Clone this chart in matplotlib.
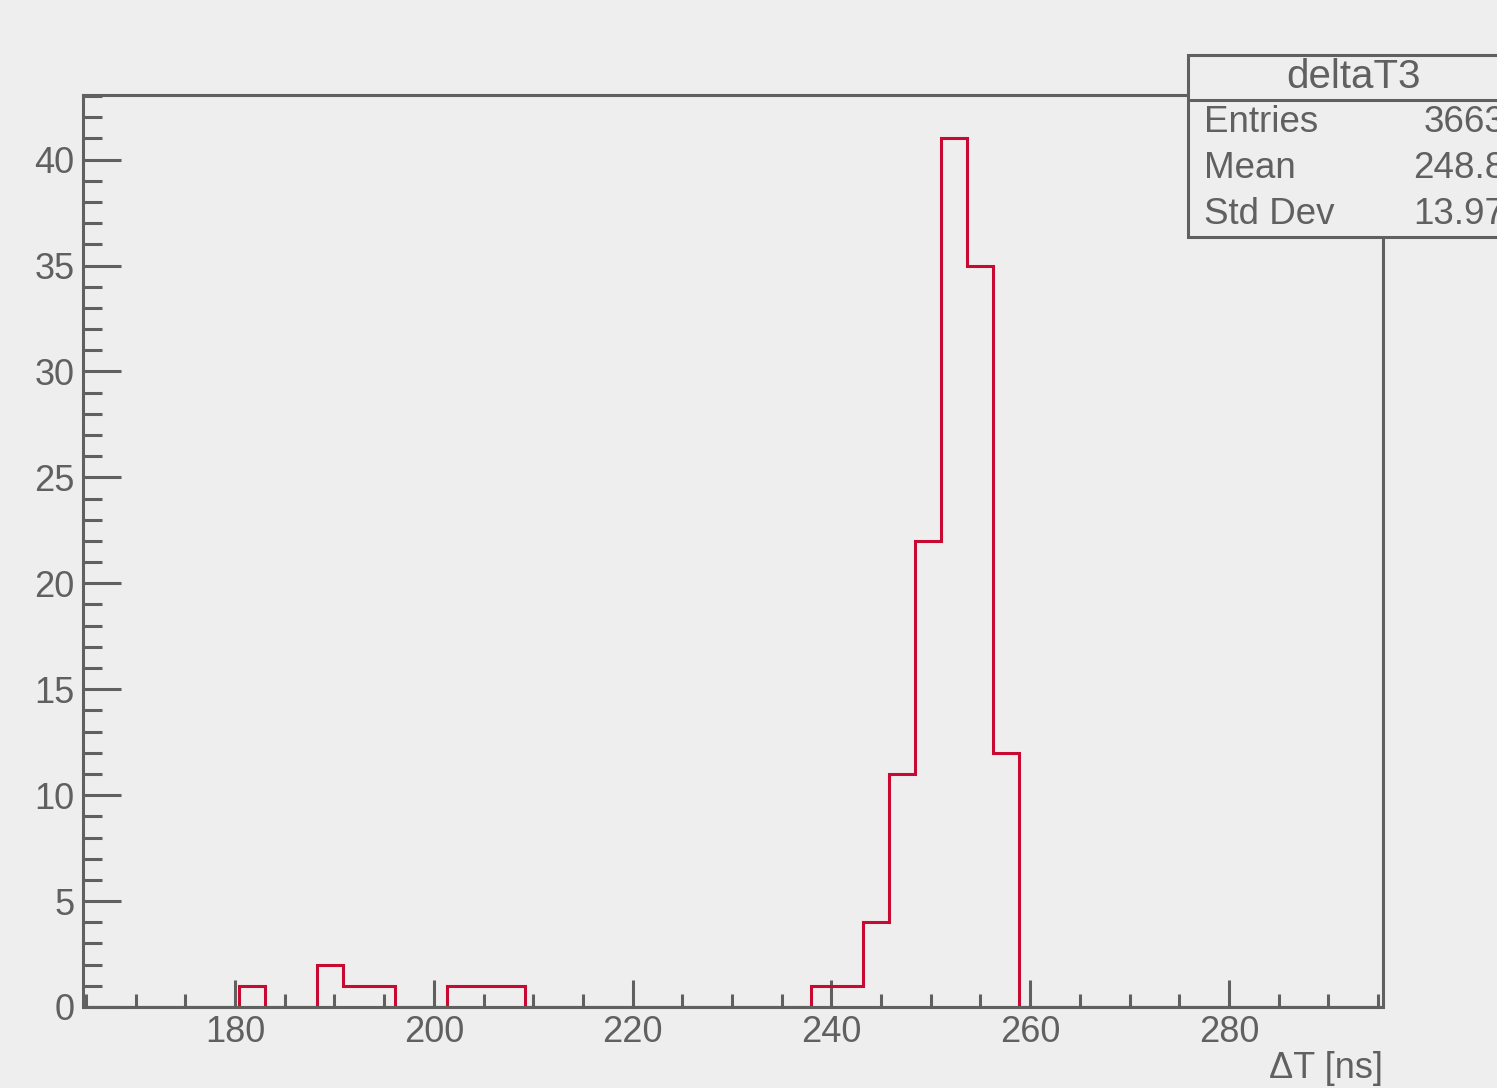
import matplotlib
matplotlib.use("Agg")
import matplotlib.pyplot as plt
import numpy as np
from matplotlib.ticker import MultipleLocator
from matplotlib.patches import Rectangle

plt.rcParams['font.family'] = ['Liberation Sans', 'DejaVu Sans']

# histogram: 50 bins between x_min and x_max
x_min, x_max = 164.7, 295.5
n_bins = 50
counts = [0, 0, 0, 0, 0, 0, 1, 0, 0, 2,
          1, 1, 0, 0, 1, 1, 1, 0, 0, 0,
          0, 0, 0, 0, 0, 0, 0, 0, 1, 1,
          4, 11, 22, 41, 35, 12, 0, 0, 0, 0,
          0, 0, 0, 0, 0, 0, 0, 0, 0, 0]
stat_names = ['Entries', 'Mean', 'Std Dev']
stat_values = ['3663', '248.8', '13.97']
hist_title = 'deltaT3'
x_label = '\u0394T [ns]'

bg = '#eeeeee'
fg = '#606060'
red = '#c80a32'

W, H = 1497, 1088
fig = plt.figure(figsize=(W / 100, H / 100), dpi=100, facecolor=bg)
ax = fig.add_axes([83 / W, 1 - 1007 / H, 1300 / W, 912 / H], facecolor=bg)

edges = np.linspace(x_min, x_max, n_bins + 1)
ax.stairs(counts, edges, color=red, lw=2.2, baseline=0, zorder=2)
ax.plot([x_min, x_max], [0, 0], color=red, lw=2.2, zorder=2)

ax.set_xlim(x_min, x_max)
ax.set_ylim(0, 1.05 * max(counts))

for s in ax.spines.values():
    s.set_color(fg)
    s.set_linewidth(2.2)
    s.set_zorder(3)

ax.xaxis.set_major_locator(MultipleLocator(20))
ax.xaxis.set_minor_locator(MultipleLocator(5))
ax.yaxis.set_major_locator(MultipleLocator(5))
ax.yaxis.set_minor_locator(MultipleLocator(1))
ax.tick_params(axis='x', which='major', direction='in', length=19.5, width=2.2,
               color=fg, labelcolor=fg, labelsize=26, pad=6)
ax.tick_params(axis='x', which='minor', direction='in', length=9.5, width=2.2, color=fg)
ax.tick_params(axis='y', which='major', direction='in', length=27, width=2.2,
               color=fg, labelcolor=fg, labelsize=26, pad=6)
ax.tick_params(axis='y', which='minor', direction='in', length=13.5, width=2.2, color=fg)

fig.text(1383 / W, 1 - 1068 / H, x_label, ha='right', va='center', fontsize=26, color=fg)

# stats box (runs off the right edge, as in the original canvas)
box = Rectangle((1188 / W, 1 - 237 / H), 400 / W, 182 / H, transform=fig.transFigure,
                facecolor=bg, edgecolor=fg, lw=2.2, zorder=5)
fig.patches.append(box)
fig.add_artist(plt.Line2D([1188 / W, 1.2], [1 - 100 / H, 1 - 100 / H],
                          transform=fig.transFigure, color=fg, lw=2.2, zorder=6))
fig.text(1353 / W, 1 - 77 / H, hist_title, ha='center', va='center', fontsize=29,
         color=fg, zorder=7)
for i, (name, val) in enumerate(zip(stat_names, stat_values)):
    y = 1 - (123 + 46 * i) / H
    fig.text(1204 / W, y, name, ha='left', va='center', fontsize=26.5, color=fg, zorder=7)
    fig.text(1505 / W, y, val, ha='right', va='center', fontsize=26.5, color=fg, zorder=7)

fig.savefig('out.png', dpi=100, facecolor=bg)
